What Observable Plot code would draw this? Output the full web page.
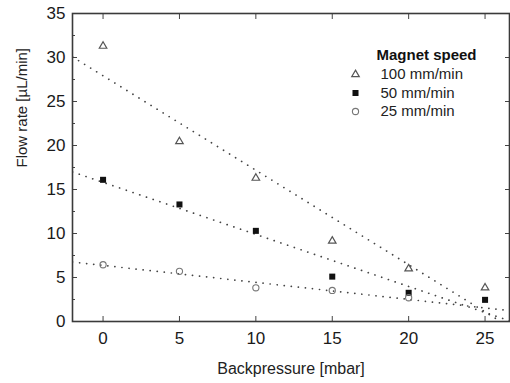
<!DOCTYPE html>
<html>
<head>
<meta charset="utf-8">
<script src="https://cdn.jsdelivr.net/npm/d3@7"></script>
<script src="https://cdn.jsdelivr.net/npm/@observablehq/plot@0.6"></script>
<style>
  html, body { margin: 0; padding: 0; background: #fff; }
  #chart svg { display: block; font-family: "Liberation Sans", Arial, sans-serif; }
</style>
</head>
<body>
<div id="chart"></div>
<script>
// ---- data ----
const backpressure = [0, 5, 10, 15, 20, 25];
const flow100 = [31.3, 20.45, 16.3, 9.15, 6.0, 3.83];
const flow50  = [16.1, 13.3, 10.3, 5.1, 3.26, 2.46];
const flow25  = [6.45, 5.7, 3.83, 3.53, 2.7, null];
const seriesNames = ["100 mm/min", "50 mm/min", "25 mm/min"];
const xTicks = [0, 5, 10, 15, 20, 25];
const yTicks = [0, 5, 10, 15, 20, 25, 30, 35];
const yMinorTicks = [2.5, 7.5, 12.5, 17.5, 22.5, 27.5, 32.5];
const xDomain = [-2, 26.6];
const yDomain = [0, 35];
const xLabel = "Backpressure [mbar]";
const yLabel = "Flow rate [µL/min]";
const legendTitle = "Magnet speed";

// ---- build tables ----
const seriesValues = [flow100, flow50, flow25];
const styles = [
  {symbol: "triangle", fill: "none", stroke: "#555", r: 2.8, strokeWidth: 1.2},
  {symbol: "square", fill: "#111", stroke: "none", r: 3.4, strokeWidth: 0},
  {symbol: "circle", fill: "none", stroke: "#777", r: 3.1, strokeWidth: 1.1}
];
const points = seriesValues.map(vals =>
  backpressure.map((x, i) => ({x, y: vals[i]})).filter(d => d.y != null));

function fit(pts) {
  const mx = d3.mean(pts, d => d.x), my = d3.mean(pts, d => d.y);
  const sxy = d3.sum(pts, d => (d.x - mx) * (d.y - my));
  const sxx = d3.sum(pts, d => (d.x - mx) ** 2);
  const b = sxy / sxx, a = my - b * mx;
  return xDomain.map(x => ({x, y: a + b * x}));
}
const fitLines = points.map(fit);

const marks = [];
fitLines.forEach(line => marks.push(Plot.line(line, {
  x: "x", y: "y", stroke: "#444", strokeWidth: 1.7,
  strokeDasharray: "0.1,7", strokeLinecap: "round", clip: true
})));
points.forEach((pts, k) => marks.push(Plot.dot(pts, {x: "x", y: "y", ...styles[k]})));

// axes: ticks inside
const axisFont = 17;
marks.push(
  Plot.axisX(xTicks, {anchor: "bottom", tickSize: -5, tickPadding: 15, fontSize: axisFont, stroke: "#444", fill: "#1a1a1a", label: null}),
  Plot.axisX(xTicks, {anchor: "top", tickSize: -5, tickFormat: () => "", stroke: "#444", label: null}),
  Plot.axisY(yTicks, {anchor: "left", tickSize: -5, tickPadding: 12, fontSize: axisFont, stroke: "#444", fill: "#1a1a1a", label: null}),
  Plot.axisY(yMinorTicks, {anchor: "left", tickSize: -3, tickFormat: () => "", stroke: "#444", label: null}),
  Plot.axisY(yTicks, {anchor: "right", tickSize: -5, tickFormat: () => "", stroke: "#444", label: null}),
  Plot.frame({stroke: "#3a3a3a", strokeWidth: 1.6}),
  Plot.text([xLabel], {text: d => d, frameAnchor: "bottom", dy: 47, lineAnchor: "middle", fontSize: 16, fill: "#222"}),
  Plot.text([yLabel], {text: d => d, frameAnchor: "left", dx: -50, rotate: -90, lineAnchor: "middle", fontSize: 15, fill: "#222"})
);

// legend inside the plot, top right
marks.push(Plot.text([legendTitle], {text: d => d, frameAnchor: "top-left", dx: 304, dy: 42, textAnchor: "start", lineAnchor: "middle", fontSize: 15, fontWeight: "bold", fill: "#111"}));
seriesNames.forEach((name, k) => {
  const dy = 61 + 18.5 * k;
  marks.push(Plot.dot([name], {frameAnchor: "top-left", dx: 283, dy, ...styles[k]}));
  marks.push(Plot.text([name], {text: d => d, frameAnchor: "top-left", dx: 308, dy, textAnchor: "start", lineAnchor: "middle", fontSize: 15, fill: "#222"}));
});

const chart = Plot.plot({
  width: 510,
  height: 383,
  marginLeft: 72,
  marginRight: 1,
  marginTop: 13,
  marginBottom: 62,
  style: {fontFamily: "Liberation Sans, Arial, sans-serif", background: "#fff"},
  x: {domain: xDomain},
  y: {domain: yDomain},
  marks
});
document.getElementById("chart").appendChild(chart);
</script>
</body>
</html>
